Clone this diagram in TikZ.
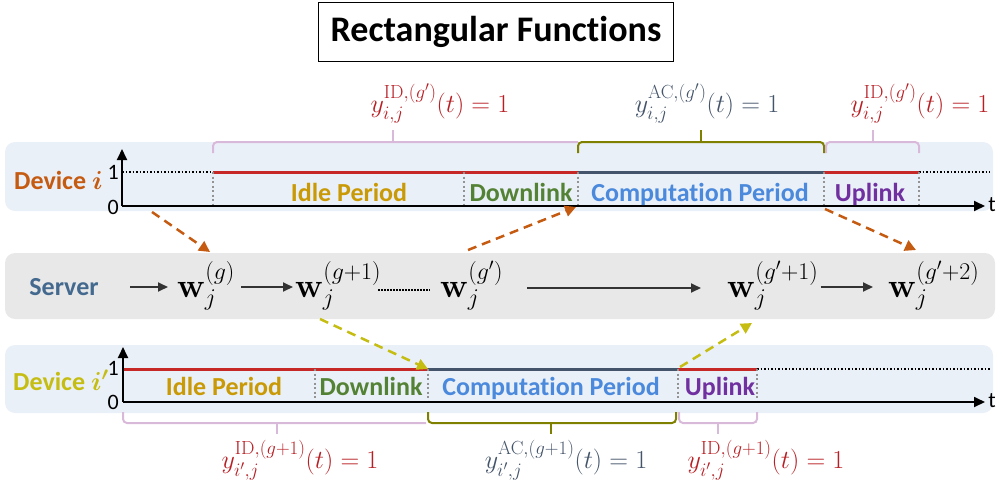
\RequirePackage{fix-cm}
\documentclass[tikz,border=0pt]{standalone}
\usepackage[no-math]{fontspec}
\setmainfont{Carlito}[Ligatures=NoCommon]
\usepackage{amsmath,bm}
\usetikzlibrary{arrows.meta,calc}
\DeclareMathSizes{26}{26}{19}{14}
\DeclareMathSizes{34}{34}{24}{17}
\definecolor{bandblue}{HTML}{EAF0F8}
\definecolor{bandgray}{HTML}{E8E8E8}
\definecolor{redl}{HTML}{C62828}
\definecolor{redt}{HTML}{B81F24}
\definecolor{slate}{HTML}{44546A}
\definecolor{orng}{HTML}{C55A11}
\definecolor{yell}{HTML}{C5BD12}
\definecolor{olive2}{HTML}{808000}
\definecolor{pinkb}{HTML}{D9B9DA}
\definecolor{idlec}{HTML}{C99A06}
\definecolor{dlc}{HTML}{548235}
\definecolor{cpc}{HTML}{4A89DC}
\definecolor{ulc}{HTML}{7030A0}
\definecolor{srvc}{HTML}{44698F}
\definecolor{darkg}{HTML}{333333}
\tikzset{
  band/.style={rounded corners=10pt},
  lbl/.style={inner sep=0pt, anchor=base, font=\fontsize{26}{30}\selectfont\bfseries},
  ticklbl/.style={inner sep=0pt, font=\fontsize{22}{26}\selectfont},
  mlbl/.style={inner sep=0pt, anchor=base, font=\fontsize{26}{30}\selectfont},
  wnode/.style={inner sep=0pt, anchor=base west, font=\fontsize{34}{38}\selectfont},
  axisarr/.style={line width=1.8pt, -{Triangle[length=11pt,width=10pt]}},
  gridv/.style={draw=gray!85, line width=2pt, dash pattern=on 2pt off 2.5pt},
  lvl/.style={line width=1.4pt, dash pattern=on 1.5pt off 2pt},
  redseg/.style={draw=redl, line width=3pt},
  blueseg/.style={draw=slate, line width=3pt},
  bracep/.style={draw=pinkb, line width=2pt, rounded corners=4pt},
  braceo/.style={draw=olive2, line width=2pt, rounded corners=4pt},
  dasharr/.style={line width=2.5pt, dash pattern=on 9pt off 6pt, -{Triangle[length=11pt,width=11pt]}},
  srvarr/.style={line width=1.8pt, draw=darkg, -{Triangle[length=10pt,width=9pt]}}
}
\begin{document}
\begin{tikzpicture}[x=1pt,y=-1pt]
\useasboundingbox (0,0) rectangle (1003,488);
% title
\node[draw=black, line width=1.5pt, minimum width=355pt, minimum height=59pt, inner sep=0pt,
  font=\fontsize{36}{40}\selectfont\bfseries] (title) at (496,32) {Rectangular Functions};
% bands
\fill[bandblue, band] (5,142) rectangle (993,211);
\fill[bandgray, band] (5,253) rectangle (995,319);
\fill[bandblue, band] (5,345) rectangle (993,413);

% ---------- device i ----------
\node[lbl, anchor=base west, text=orng] (devi) at (14,189) {Device $\bm{i}$};
\coordinate (o1) at (122,206);
\coordinate (a1) at (213,172);
\coordinate (b1) at (464,172);
\coordinate (c1) at (578,172);
\coordinate (d1) at (824,172);
\coordinate (e1) at (919,172);
\coordinate (t1end) at (985,206);
\draw[lvl] (o1 |- a1) -- (a1);
\draw[lvl] (e1) -- (990,172);
\draw[redseg] (a1) -- (c1);
\draw[blueseg] (c1) -- (d1);
\draw[redseg] (d1) -- (e1);
\foreach \p in {a1,b1,c1,d1,e1} \draw[gridv] (\p) -- (\p |- o1);
\draw[axisarr] (o1) -- (o1 |- 0,149);
\draw[axisarr] (o1) -- (t1end);
\node[ticklbl, anchor=east] (one1) at (119,172) {1};
\node[ticklbl, anchor=east] (zero1) at (119,207) {0};
\node[ticklbl] (tt1) at (992,205) {t};
\node[lbl, text=idlec] (idle1) at (349,201) {Idle Period};
\node[lbl, text=dlc] (dl1) at (521,201) {Downlink};
\node[lbl, text=cpc] (cp1) at (700,201) {Computation Period};
\node[lbl, text=ulc] (ul1) at (870,201) {Uplink};
% braces top
\draw[bracep] (213,153) -- (213,142) -- (578,142);
\draw[bracep] (393,142) -- (393,130);
\draw[braceo] (578,153) -- (578,142) -- (824,142) -- (824,153);
\draw[braceo] (701,142) -- (701,130);
\draw[bracep] (826,153) -- (826,142) -- (919,142) -- (919,153);
\draw[bracep] (873,142) -- (873,130);
% labels top
\node[mlbl, text=redt] (ytop1) at (440,112) {$y_{i,j}^{\mathrm{ID},(g')}(t)=1$};
\node[mlbl, text=slate] (ytop2) at (707,112) {$y_{i,j}^{\mathrm{AC},(g')}(t)=1$};
\node[mlbl, text=redt] (ytop3) at (920,112) {$y_{i,j}^{\mathrm{ID},(g')}(t)=1$};

% ---------- server ----------
\node[lbl, text=srvc, anchor=center] (srv) at (64,287) {Server};
\node[wnode] (w1) at (177,297) {$\mathbf{w}_j^{(g)}$};
\node[wnode] (w2) at (295,297) {$\mathbf{w}_j^{(g+1)}$};
\node[wnode] (w3) at (440,297) {$\mathbf{w}_j^{(g')}$};
\node[wnode] (w4) at (727,297) {$\mathbf{w}_j^{(g'+1)}$};
\node[wnode] (w5) at (888,297) {$\mathbf{w}_j^{(g'+2)}$};
\draw[srvarr] ([xshift=31pt]srv.east) -- ([xshift=-9pt]srv.east -| w1.west);
\draw[srvarr] ($(w1.east |- srv.east)+(6,0)$) -- ($(w2.west |- srv.east)+(-2,0)$);
\draw[line width=1.4pt, dash pattern=on 1.5pt off 1.5pt] ($(w2.east |- 0,290)+(-3,0)$) -- ($(w3.west |- 0,290)+(-10,0)$);
\draw[srvarr] (527,288) -- ($(w4.west |- 0,288)+(-26,0)$);
\draw[srvarr] ($(w4.east |- srv.east)+(2,0)$) -- ($(w5.west |- srv.east)+(-15,0)$);

% ---------- device i' ----------
\node[lbl, anchor=base west, text=yell] (devip) at (13,390) {Device $\bm{i'}$};
\coordinate (o2) at (123,402);
\coordinate (b2) at (315,369);
\coordinate (c2) at (428,369);
\coordinate (d2) at (678,369);
\coordinate (e2) at (757,369);
\coordinate (t2end) at (985,402);
\draw[lvl] (e2) -- (990,369);
\draw[redseg] (o2 |- c2) -- (c2);
\draw[blueseg] (c2) -- (d2);
\draw[redseg] (d2) -- (e2);
\foreach \p in {b2,c2,d2,e2} \draw[gridv] (\p) -- (\p |- o2);
\draw[axisarr] (o2) -- (o2 |- 0,347);
\draw[axisarr] (o2) -- (t2end);
\node[ticklbl, anchor=east] (one2) at (119,368) {1};
\node[ticklbl, anchor=east] (zero2) at (119,402) {0};
\node[ticklbl] (tt2) at (992,401) {t};
\node[lbl, text=idlec] (idle2) at (224,395) {Idle Period};
\node[lbl, text=dlc] (dl2) at (371,395) {Downlink};
\node[lbl, text=cpc] (cp2) at (551,395) {Computation Period};
\node[lbl, text=ulc] (ul2) at (720,395) {Uplink};
% braces bottom
\draw[bracep] (123,412) -- (123,423) -- (426,423);
\draw[bracep] (277,423) -- (277,434);
\draw[braceo] (428,412) -- (428,423) -- (676,423) -- (676,412);
\draw[braceo] (551,423) -- (551,434);
\draw[bracep] (679,412) -- (679,423) -- (757,423) -- (757,412);
\draw[bracep] (718,423) -- (718,434);
% labels bottom
\node[mlbl, text=redt] (ybot1) at (300,468) {$y_{i',j}^{\mathrm{ID},(g+1)}(t)=1$};
\node[mlbl, text=slate] (ybot2) at (566,468) {$y_{i',j}^{\mathrm{AC},(g+1)}(t)=1$};
\node[mlbl, text=redt] (ybot3) at (766,468) {$y_{i',j}^{\mathrm{ID},(g+1)}(t)=1$};

% ---------- dashed arrows ----------
\draw[dasharr, orng] (152,212) -- (210,252);
\draw[dasharr, orng] (468,250) -- ($(c1 |- o1)+(-2,1)$);
\draw[dasharr, orng] ($(d1 |- o1)+(1,3)$) -- (916,250);
\draw[dasharr, yell] (320,319) -- (c2);
\draw[dasharr, yell] ($(d2)+(2,-2)$) -- (752,323);
\end{tikzpicture}
\end{document}
